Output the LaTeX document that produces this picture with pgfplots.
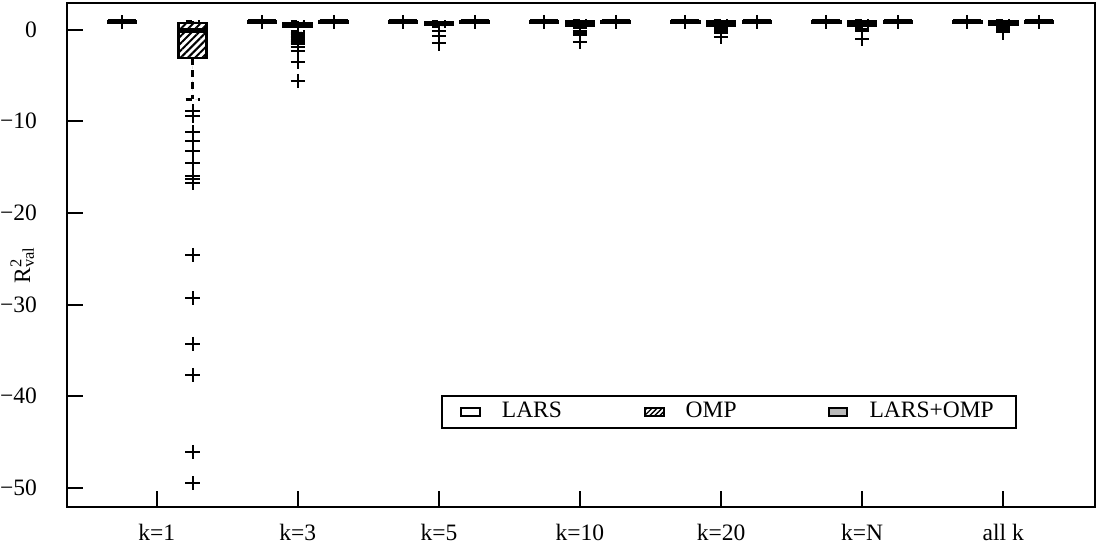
\documentclass[border=0pt]{standalone}
\usepackage{fontspec}
\setmainfont{Liberation Serif}
\usepackage{pgfplots}
\pgfplotsset{compat=1.18}
\usepgfplotslibrary{statistics}
\usetikzlibrary{patterns.meta}
\pgfplotsset{
  boxleg/.style={legend image code/.code={\draw[##1,solid,line width=0.9pt] (0pt,-1.9pt) rectangle (8.5pt,1.9pt);}},
  mybox/.style={forget plot, solid, draw=black, line width=1.1pt, mark=+, mark size=3.2pt,
    mark options={solid,line width=0.9pt,fill=none,pattern=none},
    boxplot/box extend=0.2, boxplot/whisker extend=0.1,
    boxplot/every whisker/.style={dash pattern=on 3pt off 2.5pt},
    boxplot/every median/.style={line width=2pt}},
  lars/.style={mybox, fill=white},
  omp/.style={mybox, pattern={Lines[angle=45,distance=2.3pt,line width=0.9pt]}, pattern color=black},
  lo/.style={mybox, fill=black!28},
}
\begin{document}
\fontsize{10.6}{12.7}\selectfont
\begin{tikzpicture}[font=\fontsize{10.6}{12.7}\selectfont]
\begin{axis}[
  scale only axis, width=463.5pt, height=227.25pt,
  xmin=0.365, xmax=7.65, ymin=-52.1, ymax=2.9,
  xtick={1,2,3,4,5,6,7}, xticklabels={k=1,k=3,k=5,k=10,k=20,k=N,all k},
  ytick={-50,-40,-30,-20,-10,0}, yticklabels={−50,−40,−30,−20,−10,0},
  tick align=inside, xtick pos=bottom, ytick pos=left,
  major tick length=7pt,
  axis line style={line width=0.9pt},
  every tick/.style={black, line width=0.9pt},
  tick label style={font=\fontsize{10.6}{12.7}\selectfont},
  yticklabel style={inner sep=0pt, anchor=east, xshift=-13.5pt},
  xticklabel style={yshift=-4pt},
  ylabel={R\rlap{\textsuperscript{2}}\textsubscript{val}},
  ylabel style={at={(axis description cs:-0.0437,0.48)}, anchor=center, inner sep=0pt, font=\fontsize{10.6}{12.7}\selectfont},
  boxplot/draw direction=y,
  legend columns=3,
  legend cell align=left,
  legend style={at={(0.364,0.1545)}, anchor=south west, draw=black, line width=0.9pt,
    inner xsep=8pt, inner ysep=1pt, font=\fontsize{10.6}{12.7}\selectfont,
    /tikz/every odd column/.append style={column sep=7.5pt},
    /tikz/every even column/.append style={column sep=0pt}},
]
% k=1
\addplot[lars, boxplot prepared={draw position=0.753, lower whisker=0.7, lower quartile=0.75, median=0.88, upper quartile=0.95, upper whisker=0.98}] coordinates {(0,0.82)};
\addplot[omp, boxplot prepared={draw position=1.254, lower whisker=-7.6, lower quartile=-3.1, median=-0.07, upper quartile=0.73, upper whisker=0.9}] coordinates {(0,-8.9) (0,-9.4) (0,-11.2) (0,-12.1) (0,-13.2) (0,-14.6) (0,-16.0) (0,-16.25) (0,-16.7) (0,-24.6) (0,-29.3) (0,-34.3) (0,-37.7) (0,-46.1) (0,-49.5)};
% k=3
\addplot[lars, boxplot prepared={draw position=1.746, lower whisker=0.7, lower quartile=0.75, median=0.88, upper quartile=0.95, upper whisker=0.98}] coordinates {(0,0.84)};
\addplot[omp, boxplot prepared={draw position=2.0, lower whisker=-0.2, lower quartile=0.3, median=0.6, upper quartile=0.75, upper whisker=0.9}] coordinates {(0,-0.35) (0,-0.45) (0,-0.6) (0,-0.75) (0,-0.9) (0,-1.1) (0,-1.3) (0,-1.55) (0,-1.9) (0,-2.35) (0,-3.5) (0,-5.6)};
\addplot[lo, boxplot prepared={draw position=2.254, lower whisker=0.7, lower quartile=0.75, median=0.88, upper quartile=0.95, upper whisker=0.98}] coordinates {(0,0.84)};
% k=5
\addplot[lars, boxplot prepared={draw position=2.746, lower whisker=0.7, lower quartile=0.75, median=0.88, upper quartile=0.95, upper whisker=0.98}] coordinates {(0,0.84)};
\addplot[omp, boxplot prepared={draw position=3.0, lower whisker=0.35, lower quartile=0.55, median=0.7, upper quartile=0.8, upper whisker=0.9}] coordinates {(0,-0.1) (0,-0.7) (0,-1.5)};
\addplot[lo, boxplot prepared={draw position=3.254, lower whisker=0.7, lower quartile=0.75, median=0.88, upper quartile=0.95, upper whisker=0.98}] coordinates {(0,0.84)};
% k=10
\addplot[lars, boxplot prepared={draw position=3.746, lower whisker=0.7, lower quartile=0.75, median=0.88, upper quartile=0.95, upper whisker=0.98}] coordinates {(0,0.84)};
\addplot[omp, boxplot prepared={draw position=4.0, lower whisker=0.3, lower quartile=0.45, median=0.7, upper quartile=0.9, upper whisker=0.98}] coordinates {(0,0.15) (0,-0.1) (0,-0.35) (0,-0.6) (0,-1.35)};
\addplot[lo, boxplot prepared={draw position=4.254, lower whisker=0.7, lower quartile=0.75, median=0.88, upper quartile=0.95, upper whisker=0.98}] coordinates {(0,0.84)};
% k=20
\addplot[lars, boxplot prepared={draw position=4.746, lower whisker=0.7, lower quartile=0.75, median=0.88, upper quartile=0.95, upper whisker=0.98}] coordinates {(0,0.84)};
\addplot[omp, boxplot prepared={draw position=5.0, lower whisker=0.3, lower quartile=0.45, median=0.7, upper quartile=0.9, upper whisker=0.98}] coordinates {(0,0.2) (0,0.0) (0,-0.2) (0,-0.35) (0,-0.8)};
\addplot[lo, boxplot prepared={draw position=5.254, lower whisker=0.7, lower quartile=0.75, median=0.88, upper quartile=0.95, upper whisker=0.98}] coordinates {(0,0.84)};
% k=N
\addplot[lars, boxplot prepared={draw position=5.746, lower whisker=0.7, lower quartile=0.75, median=0.88, upper quartile=0.95, upper whisker=0.98}] coordinates {(0,0.84)};
\addplot[omp, boxplot prepared={draw position=6.0, lower whisker=0.3, lower quartile=0.45, median=0.7, upper quartile=0.9, upper whisker=0.98}] coordinates {(0,0.1) (0,-0.1) (0,-1.0)};
\addplot[lo, boxplot prepared={draw position=6.254, lower whisker=0.7, lower quartile=0.75, median=0.88, upper quartile=0.95, upper whisker=0.98}] coordinates {(0,0.84)};
% all k
\addplot[lars, boxplot prepared={draw position=6.746, lower whisker=0.7, lower quartile=0.75, median=0.88, upper quartile=0.95, upper whisker=0.98}] coordinates {(0,0.84)};
\addplot[omp, boxplot prepared={draw position=7.0, lower whisker=0.4, lower quartile=0.55, median=0.75, upper quartile=0.9, upper whisker=0.98}] coordinates {(0,0.3) (0,0.1) (0,-0.1) (0,-0.3)};
\addplot[lo, boxplot prepared={draw position=7.254, lower whisker=0.7, lower quartile=0.75, median=0.88, upper quartile=0.95, upper whisker=0.98}] coordinates {(0,0.84)};
% legend
\addlegendimage{boxleg, draw=black, fill=white}
\addlegendentry{\makebox[62pt][l]{LARS}}
\addlegendimage{boxleg, draw=black, pattern={Lines[angle=45,distance=1.6pt,line width=0.6pt]}}
\addlegendentry{\makebox[62pt][l]{OMP}}
\addlegendimage{boxleg, draw=black, fill=black!28}
\addlegendentry{LARS+OMP}
\end{axis}
\draw[line width=0.9pt] (current axis.south west) rectangle (current axis.north east);
\path (current axis.north east) ++(3.2pt,1.4pt);
\end{tikzpicture}
\end{document}
